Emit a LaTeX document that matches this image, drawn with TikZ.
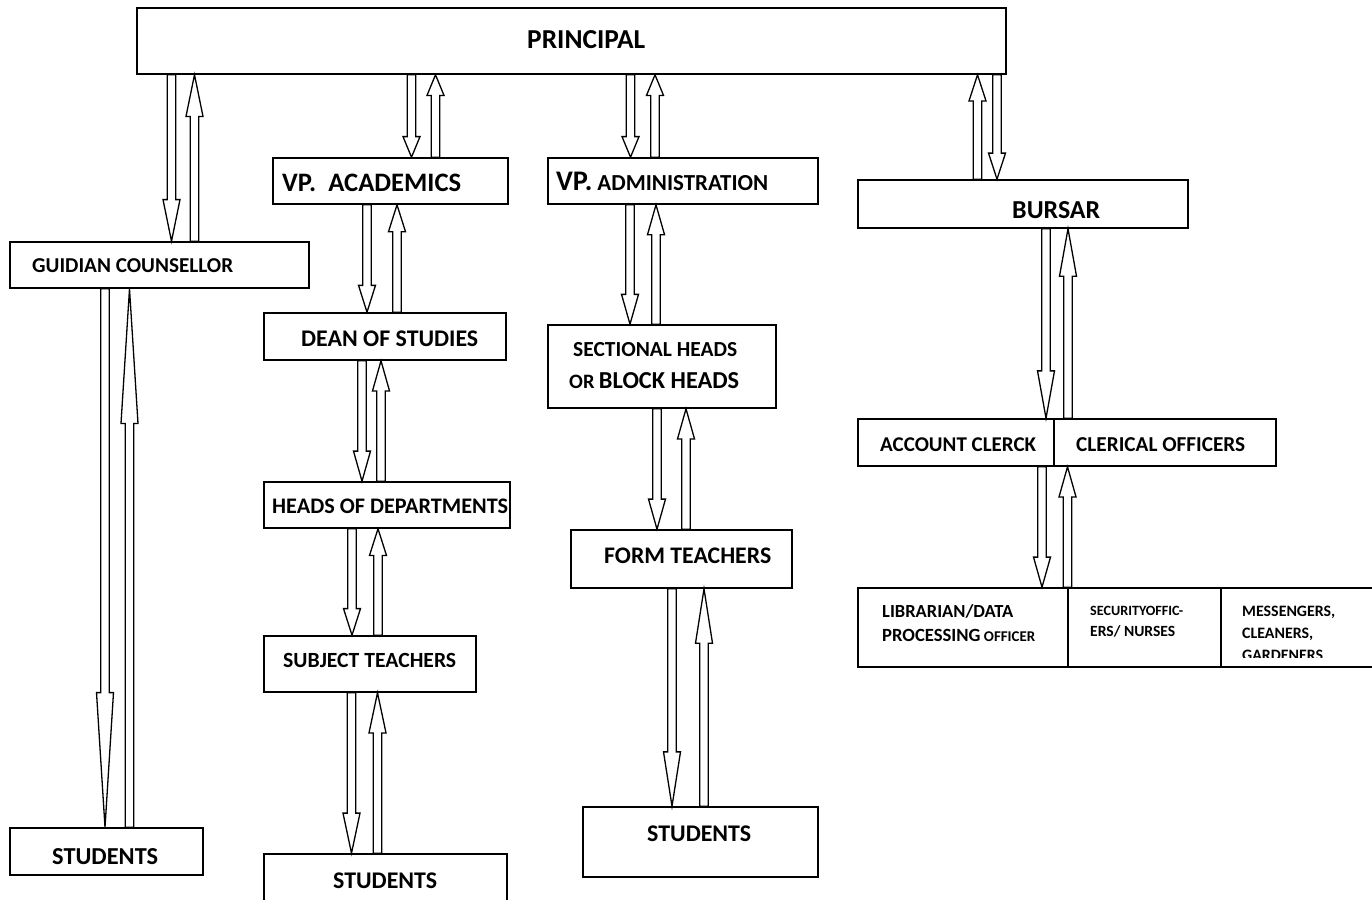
\documentclass[tikz,border=0pt]{standalone}
\usepackage{fontspec}
\setmainfont{Carlito}
\usepackage{graphicx}
\usetikzlibrary{calc,fit}
\tikzset{
  x=1pt, y=-1pt,
  box/.style={draw, line width=1.6pt, inner sep=0pt, fill=none},
  lbl/.style={inner sep=0pt, anchor=base west, font=\bfseries},
  blockarrow/.style={draw, line width=1.3pt, fill=white, line join=miter},
}
\newcommand\blk[3]{%
  \draw[blockarrow] let \p1=(#2), \p2=(#3), \n1={\y2-0.25*(\y2-\y1)} in
   ({#1pt-4.3pt},\y1) -- ({#1pt+4.3pt},\y1) -- ({#1pt+4.3pt},{\n1*1pt}) --
   ({#1pt+8.5pt},{\n1*1pt}) -- ({#1pt},\y2) -- ({#1pt-8.5pt},{\n1*1pt}) --
   ({#1pt-4.3pt},{\n1*1pt}) -- cycle;}
\newcommand\lab[5]{\node[lbl] (#1) at (#2,#3) {\resizebox{#4pt}{!}{#5}};}
\begin{document}
\begin{tikzpicture}
\clip (0,0) rectangle (1372,899);
\fill[white] (0,0) rectangle (1372,899);
% boxes
\node[box, fit={(137,8) (1006,74)}] (principal) {};
\node[box, fit={(273,158) (508,204)}] (vpa) {};
\node[box, fit={(548,158) (818,204)}] (vpadm) {};
\node[box, fit={(858,180) (1188,228)}] (bursar) {};
\node[box, fit={(10,242) (309,288)}] (couns) {};
\node[box, fit={(264,313) (506,360)}] (dean) {};
\node[box, fit={(548,325) (776,408)}] (sect) {};
\node[box, fit={(858,419) (1054,466)}] (acc) {};
\node[box, fit={(1054,419) (1276,466)}] (cler) {};
\node[box, fit={(264,482) (510,528)}] (hod) {};
\node[box, fit={(571,530) (792,588)}] (form) {};
\node[box, fit={(858,588) (1068,667)}] (lib) {};
\node[box, fit={(1068,588) (1221,667)}] (sec) {};
\node[box, fit={(1221,588) (1390,667)}] (mes) {};
\node[box, fit={(264,636) (476,692)}] (subj) {};
\node[box, fit={(10,828) (203,875)}] (stu1) {};
\node[box, fit={(264,854) (507,920)}] (stu2) {};
\node[box, fit={(583,807) (818,877)}] (stu3) {};
% labels
\lab{tprin}{527}{49}{118}{PRINCIPAL}
\lab{tvpa}{282}{191}{179}{VP.\ \ ACADEMICS}
\lab{tvpadm}{556}{190}{212}{{\fontsize{13}{15}\selectfont VP.} {\fontsize{10.5}{12}\selectfont ADMINISTRATION}}
\lab{tbur}{1012}{218}{88}{BURSAR}
\lab{tcou}{32}{272}{201}{GUIDIAN COUNSELLOR}
\lab{tdean}{301}{346}{177}{DEAN OF STUDIES}
\lab{tsect}{573}{356}{164}{SECTIONAL HEADS}
\lab{tblock}{569}{388}{170}{{\fontsize{10.5}{12}\selectfont OR} {\fontsize{12.5}{14}\selectfont BLOCK HEADS}}
\lab{tacc}{880}{451}{156}{ACCOUNT CLERCK}
\lab{tcler}{1076}{451}{169}{CLERICAL OFFICERS}
\lab{thod}{272}{513}{236}{HEADS OF DEPARTMENTS}
\lab{tform}{604}{563}{167}{FORM TEACHERS}
\lab{tlib}{882}{617}{131}{LIBRARIAN/DATA}
\lab{tproc}{882}{641}{153}{{\fontsize{12.5}{14}\selectfont PROCESSING} {\fontsize{10}{12}\selectfont OFFICER}}
\lab{tsec}{1090}{615}{93}{SECURITYOFFIC-}
\lab{tnur}{1090}{636}{85}{ERS/ NURSES}
\lab{tmes}{1242}{616}{93}{MESSENGERS,}
\lab{tcle}{1242}{638}{71}{CLEANERS,}
\begin{scope}
\clip (1221,588) rectangle (1372,657);
\lab{tgar}{1242}{660}{81}{GARDENERS}
\end{scope}
\lab{tsubj}{283}{667}{173}{SUBJECT TEACHERS}
\lab{tstu1}{52}{864}{106}{STUDENTS}
\lab{tstu2}{333}{888}{104}{STUDENTS}
\lab{tstu3}{647}{841}{104}{STUDENTS}
% block arrows
\blk{171.5}{principal.south}{couns.north}
\blk{194.5}{couns.north}{principal.south}
\blk{105}{couns.south}{stu1.north}
\blk{129.5}{stu1.north}{couns.south}
\blk{411.5}{principal.south}{vpa.north}
\blk{435.5}{vpa.north}{principal.south}
\blk{367}{vpa.south}{dean.north}
\blk{397}{dean.north}{vpa.south}
\blk{362}{dean.south}{hod.north}
\blk{381}{hod.north}{dean.south}
\blk{352}{hod.south}{subj.north}
\blk{378}{subj.north}{hod.south}
\blk{351.5}{subj.south}{stu2.north}
\blk{377.5}{stu2.north}{subj.south}
\blk{630.5}{principal.south}{vpadm.north}
\blk{655}{vpadm.north}{principal.south}
\blk{630}{vpadm.south}{sect.north}
\blk{656}{sect.north}{vpadm.south}
\blk{657}{sect.south}{form.north}
\blk{686}{form.north}{sect.south}
\blk{672}{form.south}{stu3.north}
\blk{704}{stu3.north}{form.south}
\blk{977.5}{bursar.north}{principal.south}
\blk{997}{principal.south}{bursar.north}
\blk{1046}{bursar.south}{acc.north}
\blk{1068}{cler.north}{bursar.south}
\blk{1042}{acc.south}{lib.north}
\blk{1067.5}{sec.north}{acc.south}
\end{tikzpicture}
\end{document}
